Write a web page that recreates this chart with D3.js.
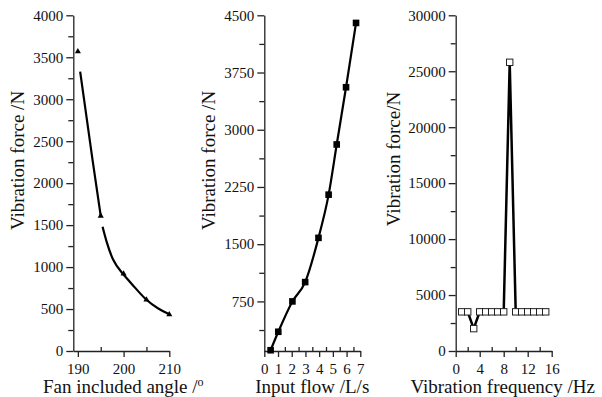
<!DOCTYPE html>
<html>
<head>
<meta charset="utf-8">
<script src="https://cdn.jsdelivr.net/npm/d3@7"></script>
<style>
  body { margin: 0; background: #fff; }
  svg text { font-family: "Liberation Serif", "Times New Roman", serif !important; fill: #111; }
</style>
</head>
<body>
<script>
// panel 1: fan included angle
const angle = [190, 195, 200, 205, 210];
const angleForce = [3570, 1610, 920, 610, 435];
// fitted curve (two pieces, gap near 195)
const fitAngleA = [190.5, 193.2, 195];
const fitForceA = [3330, 2280, 1610];
const fitAngleB = [195.4, 196.3, 197.7, 199.6, 202.5, 205, 207.5, 210];
const fitForceB = [1480, 1300, 1090, 935, 755, 610, 510, 437];

// panel 2: input flow
const flow = [0.46, 1.02, 2.05, 2.98, 3.95, 4.69, 5.28, 5.96, 6.69];
const flowForce = [110, 352, 750, 1003, 1583, 2149, 2807, 3557, 4400];

// panel 3: vibration frequency
const freq = [1, 2, 3, 4, 5, 6, 7, 8, 9, 10, 11, 12, 13, 14, 15];
const freqForce = [3500, 3500, 2000, 3500, 3500, 3500, 3500, 3500, 25800, 3500, 3500, 3500, 3500, 3500, 3500];

// tick labels
const angleTicks = [190, 200, 210];
const angleMinor = [195, 205];
const angleYTicks = [0, 500, 1000, 1500, 2000, 2500, 3000, 3500, 4000];
const flowTicks = [0, 1, 2, 3, 4, 5, 6, 7];
const flowYTicks = [750, 1500, 2250, 3000, 3750, 4500];
const freqTicks = [0, 4, 8, 12, 16];
const freqYTicks = [0, 5000, 10000, 15000, 20000, 25000, 30000];

const width = 602, height = 397;
const plotTop = 15.3, plotBottom = 351, plotW = 96;
const serif = "Liberation Serif, Times New Roman, serif";

const svg = d3.select("body")
    .append("svg")
    .attr("width", width)
    .attr("height", height);

function halfSteps(ticks) {
    let out = [];
    for (let i = 0; i < ticks.length - 1; i++) out.push((ticks[i] + ticks[i + 1]) / 2);
    return out;
}

function drawAxes(g, x, y, o) {
    // y axis
    g.append("g")
        .call(d3.axisLeft(y).tickValues(o.yTicks).tickSize(7).tickSizeOuter(0).tickPadding(3)
            .tickFormat(d3.format("d")));
    g.append("g")
        .call(d3.axisLeft(y).tickValues(halfSteps(o.yTicks).concat(o.yExtraMinor || [])).tickSize(5).tickFormat(""))
        .select(".domain").remove();
    // x axis
    g.append("g")
        .attr("transform", `translate(0,${plotBottom - plotTop})`)
        .call(d3.axisBottom(x).tickValues(o.xTicks).tickSize(6).tickSizeOuter(0).tickPadding(6.5)
            .tickFormat(d3.format("d")));
    g.append("g")
        .attr("transform", `translate(0,${plotBottom - plotTop})`)
        .call(d3.axisBottom(x).tickValues(o.xMinor).tickSize(-4).tickFormat(""))
        .select(".domain").remove();

    g.selectAll("g").attr("font-family", serif).attr("font-size", 15);
    g.selectAll(".domain, .tick line").attr("stroke", "#222").attr("stroke-width", 1.3);
    g.selectAll(".tick text").attr("font-family", serif).style("font-size", "15px").attr("fill", "#111");
}

function yTitle(cx, cy, label) {
    svg.append("text")
        .attr("transform", `translate(${cx},${cy}) rotate(-90)`)
        .attr("text-anchor", "middle")
        .attr("dominant-baseline", "central")
        .style("font-size", "19px")
        .text(label);
}

// ---------- panel 1 ----------
{
    const left = 73.3;
    const g = svg.append("g").attr("transform", `translate(${left},${plotTop})`);
    const x = d3.scaleLinear().domain([189, 210]).range([0, plotW]);
    const y = d3.scaleLinear().domain([0, 4000]).range([plotBottom - plotTop, 0]);
    drawAxes(g, x, y, { yTicks: angleYTicks, xTicks: angleTicks, xMinor: angleMinor });

    const line = d3.line()
        .x(d => x(d[0]))
        .y(d => y(d[1]))
        .curve(d3.curveNatural);
    [[fitAngleA, fitForceA], [fitAngleB, fitForceB]].forEach(function(s) {
        g.append("path")
            .datum(s[0].map((v, i) => [v, s[1][i]]))
            .attr("d", line)
            .attr("fill", "none")
            .attr("stroke", "#000")
            .attr("stroke-width", 2.2);
    });

    g.selectAll(".pt")
        .data(angle)
        .enter()
        .append("path")
        .attr("d", d3.symbol().type(d3.symbolTriangle).size(16))
        .attr("transform", (d, i) => `translate(${x(d)},${y(angleForce[i])})`)
        .attr("fill", "#000");

    yTitle(17.5, 160.5, "Vibration force /N");
    const t = svg.append("text")
        .attr("x", left + plotW / 2 + 2)
        .attr("y", 393)
        .attr("text-anchor", "middle")
        .style("font-size", "19px")
        .text("Fan included angle /");
    t.append("tspan")
        .attr("dy", -7)
        .style("font-size", "12px")
        .text("o");
}

// ---------- panel 2 ----------
{
    const left = 264.3;
    const g = svg.append("g").attr("transform", `translate(${left},${plotTop})`);
    const x = d3.scaleLinear().domain([0, 7]).range([0, plotW]);
    const y = d3.scaleLinear().domain([100, 4500]).range([plotBottom - plotTop, 0]);
    drawAxes(g, x, y, { yTicks: flowYTicks, yExtraMinor: [375], xTicks: flowTicks, xMinor: halfSteps(flowTicks) });

    g.append("path")
        .datum(flow.map((v, i) => [v, flowForce[i]]))
        .attr("d", d3.line().x(d => x(d[0])).y(d => y(d[1])).curve(d3.curveMonotoneX))
        .attr("fill", "none")
        .attr("stroke", "#000")
        .attr("stroke-width", 2.2);

    g.selectAll(".pt")
        .data(flow)
        .enter()
        .append("rect")
        .attr("x", d => x(d) - 3.3)
        .attr("y", (d, i) => y(flowForce[i]) - 3.3)
        .attr("width", 6.6)
        .attr("height", 6.6)
        .attr("fill", "#000");

    yTitle(208, 160.5, "Vibration force /N");
    svg.append("text")
        .attr("x", left + plotW / 2)
        .attr("y", 393)
        .attr("text-anchor", "middle")
        .style("font-size", "19px")
        .text("Input flow /L/s");
}

// ---------- panel 3 ----------
{
    const left = 455.7;
    const g = svg.append("g").attr("transform", `translate(${left},${plotTop})`);
    const x = d3.scaleLinear().domain([0, 16]).range([0, plotW]);
    const y = d3.scaleLinear().domain([0, 30000]).range([plotBottom - plotTop, 0]);
    drawAxes(g, x, y, { yTicks: freqYTicks, xTicks: freqTicks, xMinor: halfSteps(freqTicks) });

    g.append("path")
        .datum(freq.map((v, i) => [v, freqForce[i]]))
        .attr("d", d3.line().x(d => x(d[0])).y(d => y(d[1])))
        .attr("fill", "none")
        .attr("stroke", "#000")
        .attr("stroke-width", 2.5);

    g.selectAll(".pt")
        .data(freq)
        .enter()
        .append("rect")
        .attr("x", d => x(d) - 3.2)
        .attr("y", (d, i) => y(freqForce[i]) - 3.2)
        .attr("width", 6.4)
        .attr("height", 6.4)
        .attr("fill", "#fff")
        .attr("stroke", "#222")
        .attr("stroke-width", 1);

    yTitle(393, 159, "Vibration force/N");
    svg.append("text")
        .attr("x", left + plotW / 2 - 1)
        .attr("y", 393)
        .attr("text-anchor", "middle")
        .style("font-size", "19px")
        .text("Vibration frequency /Hz");
}
</script>
</body>
</html>
